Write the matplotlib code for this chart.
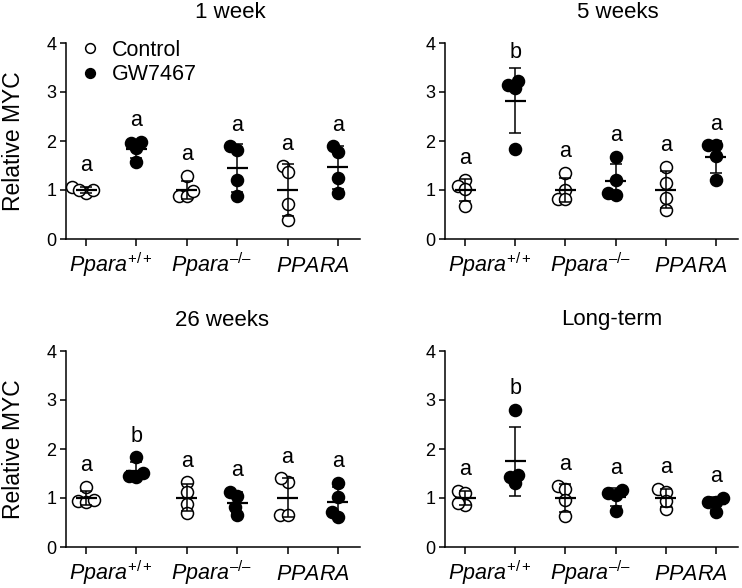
import numpy as np
import matplotlib
matplotlib.use("Agg")
import matplotlib.pyplot as plt
from matplotlib.lines import Line2D

plt.rcParams['font.family'] = 'Liberation Sans'
plt.rcParams['mathtext.fontset'] = 'custom'
plt.rcParams['mathtext.rm'] = 'Liberation Sans'
plt.rcParams['mathtext.it'] = 'Liberation Sans:italic'

# data
titles = ['1 week', '5 weeks', '26 weeks', 'Long-term']
group_labels = [r'$\mathit{Ppara}^{+/+}$', '$\\mathit{Ppara}^{\\mathrm{\u2013/\u2013}}$', r'$\mathit{PPARA}$']

ctrl_1wk = [[0.93, 1.07, 1.00, 1.00], [1.28, 0.88, 0.87, 0.97], [1.50, 1.37, 0.72, 0.39]]
gw_1wk = [[1.98, 1.96, 1.85, 1.58], [1.89, 1.82, 1.21, 0.88], [1.89, 1.77, 1.24, 0.94]]

ctrl_5wk = [[1.21, 1.08, 1.03, 0.68], [1.35, 1.01, 0.82, 0.82], [1.47, 1.14, 0.84, 0.59]]
gw_5wk = [[3.23, 3.15, 3.08, 1.84], [1.67, 1.21, 0.90, 0.93], [1.91, 1.91, 1.69, 1.21]]

ctrl_26wk = [[1.22, 0.93, 0.92, 0.95], [1.32, 1.12, 0.88, 0.70], [1.32, 1.40, 0.66, 0.66]]
gw_26wk = [[1.83, 1.45, 1.43, 1.52], [1.12, 1.04, 0.81, 0.66], [1.31, 1.02, 0.71, 0.61]]

ctrl_long = [[1.14, 1.10, 0.86, 0.90], [1.25, 1.19, 0.95, 0.63], [1.18, 1.13, 0.77, 0.94]]
gw_long = [[2.80, 1.30, 1.46, 1.42], [1.17, 1.10, 1.07, 0.74], [1.00, 0.92, 0.92, 0.71]]

letters_1wk = ['a', 'a', 'a', 'a', 'a', 'a']
letters_5wk = ['a', 'b', 'a', 'a', 'a', 'a']
letters_26wk = ['a', 'b', 'a', 'a', 'a', 'a']
letters_long = ['a', 'b', 'a', 'a', 'a', 'a']

panels = [(ctrl_1wk, gw_1wk, letters_1wk),
          (ctrl_5wk, gw_5wk, letters_5wk),
          (ctrl_26wk, gw_26wk, letters_26wk),
          (ctrl_long, gw_long, letters_long)]

W, H = 742, 588
fig = plt.figure(figsize=(W / 100, H / 100), dpi=100)

# axes rectangles in pixels: left, top(y=4), width, height
rects = [(66, 43, 294, 196), (445, 43, 293, 196), (66, 351, 294, 196), (445, 351, 293, 196)]
title_x = [0.56, 0.59, 0.53, 0.57]

marker_d = 12      # px
marker_s = (marker_d * 0.72) ** 2
lw = 1.1


def swarm(ax, xc, vals, d):
    pts = ax.transData.transform(np.column_stack([np.full(len(vals), xc), vals]))
    ys = pts[:, 1]
    ppu = ax.transData.transform((1, 0))[0] - ax.transData.transform((0, 0))[0]
    offs = np.zeros(len(vals))
    placed = []
    for i in np.argsort(ys):
        y = ys[i]
        cands = [0.0]
        for px, py in placed:
            dy = abs(y - py)
            if dy < d:
                dx = np.sqrt(d ** 2 - dy ** 2)
                cands += [px - dx, px + dx]
        ok = [c for c in cands
              if all((c - px) ** 2 + (y - py) ** 2 >= d ** 2 - 1e-6 for px, py in placed)]
        best = min(ok, key=lambda c: (abs(c), c))
        offs[i] = best
        placed.append((best, y))
    return xc + offs / ppu


for k, (ctrl, gw, letters) in enumerate(panels):
    l, t, w, h = rects[k]
    ax = fig.add_axes([l / W, 1 - (t + h) / H, w / W, h / H])
    ax.set_xlim(-0.4, 5.44)
    ax.set_ylim(0, 4)
    for s in ['top', 'right']:
        ax.spines[s].set_visible(False)
    for s in ['left', 'bottom']:
        ax.spines[s].set_linewidth(lw)
    ax.set_yticks([0, 1, 2, 3, 4])
    ax.set_xticks(range(6))
    ax.tick_params(axis='y', length=4.3, width=lw, pad=2.5, labelsize=13)
    ax.tick_params(axis='x', length=5, width=lw, labelbottom=False)

    for g in range(3):
        for j, (vals, fill) in enumerate([(ctrl[g], 'white'), (gw[g], 'black')]):
            xc = 2 * g + j
            v = np.array(vals)
            xs = swarm(ax, xc, v, marker_d * 0.65)
            ax.scatter(xs, v, s=marker_s, facecolor=fill, edgecolor='black',
                       linewidth=lw, zorder=3, clip_on=False)
            m = v.mean()
            sd = v.std(ddof=1)
            ax.errorbar(xc, m, yerr=sd, fmt='none', ecolor='black', elinewidth=lw,
                        capsize=4.3, capthick=lw, zorder=4)
            ax.hlines(m, xc - 0.21, xc + 0.21, color='black', lw=1.6, zorder=4)
            top = max(v.max() + 0.12, m + sd)
            ax.text(xc, top + 0.1, letters[2 * g + j], ha='center', va='bottom',
                    fontsize=15.5)
        ax.text(2 * g + 0.5, -33 / h, group_labels[g], transform=ax.get_xaxis_transform(),
                ha='center', va='baseline', fontsize=15.5)

    ax.text(title_x[k], 1 + 31 / h, titles[k], transform=ax.transAxes,
            ha='center', va='center', fontsize=16)
    if k % 2 == 0:
        ax.text((14 - l) / w, 0.5, 'Relative MYC', transform=ax.transAxes,
                rotation=90, ha='center', va='center', fontsize=16.5)
    if k == 0:
        handles = [Line2D([], [], ls='none', marker='o', mfc='white', mec='black', ms=7, mew=lw),
                   Line2D([], [], ls='none', marker='o', mfc='black', mec='black', ms=7, mew=lw)]
        ax.legend(handles, ['Control', 'GW7467'], loc='upper left',
                  bbox_to_anchor=(83.5 / W, 1 - 40 / H), bbox_transform=fig.transFigure,
                  frameon=False, fontsize=15.5, handlelength=0.6, handletextpad=0.7,
                  labelspacing=0.15, borderpad=0, borderaxespad=0)

fig.savefig('out.png', dpi=100)
